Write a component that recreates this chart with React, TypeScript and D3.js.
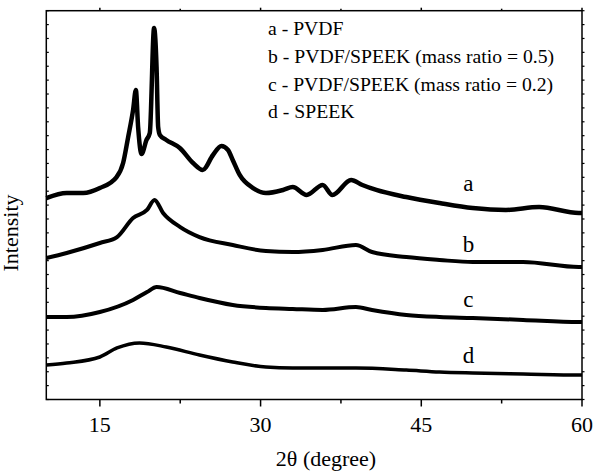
import React from "react";
import * as d3 from "d3";

// 2θ (degree) and intensity (a.u.)
const seriesA: [number, number][] = [
  [10.0, 1451], [11.9, 1487], [13.45, 1487], [15.0, 1523], [16.56, 1602], [17.17, 1703],
  [17.64, 1890], [18.1, 2085], [18.36, 2229], [18.57, 1962], [18.89, 1768], [19.35, 1869],
  [19.66, 1919], [20.06, 2675], [20.29, 2395], [20.44, 1962], [20.6, 1905], [21.2, 1869],
  [22.46, 1811], [23.7, 1703], [24.6, 1653], [25.56, 1761], [26.34, 1826], [26.96, 1797],
  [27.4, 1725], [28.05, 1617], [29.3, 1523], [30.5, 1487], [32.1, 1509], [33.0, 1530],
  [34.3, 1473], [35.8, 1545], [36.7, 1473], [38.45, 1581], [39.5, 1545], [40.8, 1509],
  [43.6, 1458], [46.7, 1415], [49.8, 1379], [52.9, 1365], [56.0, 1386], [59.7, 1343], [60, 1343],
];
const seriesB: [number, number][] = [
  [10.0, 1019], [11.9, 1055], [15.0, 1127], [16.6, 1170], [18.1, 1307], [19.4, 1365],
  [20.1, 1437], [20.9, 1343], [22.5, 1242], [24.3, 1170], [27.4, 1113], [30.5, 1069],
  [33.0, 1062], [35.8, 1077], [38.9, 1113], [40.4, 1062], [43.6, 1026], [46.7, 1005],
  [49.8, 990], [54.5, 990], [59.7, 954], [60, 954],
];
const seriesC: [number, number][] = [
  [10.0, 594], [11.9, 594], [15.0, 630], [18.1, 717], [19.4, 774], [20.3, 810],
  [22.5, 767], [24.3, 731], [27.4, 681], [30.5, 659], [33.0, 652], [35.8, 645],
  [38.9, 666], [40.4, 645], [43.6, 609], [46.7, 594], [49.8, 587], [54.5, 573],
  [59.7, 558], [60, 558],
];
const seriesD: [number, number][] = [
  [10.0, 248], [11.9, 263], [15.0, 306], [16.6, 371], [18.7, 407], [21.2, 378],
  [24.3, 320], [27.4, 270], [30.5, 234], [33.0, 227], [38.9, 227], [43.6, 212],
  [46.7, 198], [49.8, 191], [54.5, 184], [59.7, 176], [60, 176],
];

const curveLabels = ["a", "b", "c", "d"];
const curveLabelX = 49.4; // degree where the letters sit
const curveLabelY = [1502, 1062, 666, 263];
const legendLines = [
  "a - PVDF",
  "b - PVDF/SPEEK (mass ratio = 0.5)",
  "c - PVDF/SPEEK (mass ratio = 0.2)",
  "d - SPEEK",
];
const xMajorTicks = [15, 30, 45, 60];
const xMinorTicks = [22.5, 37.5, 52.5];
const yTicks = d3.range(0, 2801, 100);

const W = 594;
const H = 472;
const m = { left: 46.3, right: 582, top: 10.7, bottom: 399.5 };
const FONT = "Liberation Serif";
const strokeWidths = [4.5, 4, 4, 3.5];

export default function App() {
  const x = d3.scaleLinear().domain([10, 60]).range([m.left, m.right]);
  const y = d3.scaleLinear().domain([0, 2800]).range([m.bottom, m.top]);
  const line = d3
    .line<[number, number]>()
    .x((d) => x(d[0]))
    .y((d) => y(d[1]))
    .curve(d3.curveMonotoneX);
  const all = [seriesA, seriesB, seriesC, seriesD];

  return (
    <svg
      width={W}
      height={H}
      style={{ position: "absolute", left: 0, top: 0, background: "#fff" }}
    >
      <rect x={0} y={0} width={W} height={H} fill="#fff" />
      {all.map((s, i) => (
        <path key={i} d={line(s) || ""} fill="none" stroke="#000" strokeWidth={strokeWidths[i]} strokeLinejoin="round" />
      ))}
      <rect
        x={m.left}
        y={m.top}
        width={m.right - m.left}
        height={m.bottom - m.top}
        fill="none"
        stroke="#000"
        strokeWidth={1.5}
      />
      {xMajorTicks.map((t) => (
        <g key={"M" + t}>
          <line x1={x(t)} x2={x(t)} y1={m.bottom} y2={m.bottom + 7} stroke="#000" strokeWidth={1.5} />
          <line x1={x(t)} x2={x(t)} y1={m.top} y2={m.top - 3} stroke="#000" strokeWidth={1.5} />
          <text x={x(t)} y={432} textAnchor="middle" fontFamily={FONT} fontSize={22}>
            {t}
          </text>
        </g>
      ))}
      {xMinorTicks.map((t) => (
        <g key={"m" + t}>
          <line x1={x(t)} x2={x(t)} y1={m.bottom} y2={m.bottom + 4} stroke="#000" strokeWidth={1.5} />
          <line x1={x(t)} x2={x(t)} y1={m.top} y2={m.top - 2} stroke="#000" strokeWidth={1.5} />
        </g>
      ))}
      {yTicks.map((t) => (
        <g key={"y" + t}>
          <line x1={m.left} x2={m.left + 2.5} y1={y(t)} y2={y(t)} stroke="#000" strokeWidth={1.2} />
          <line x1={m.right} x2={m.right + 2.5} y1={y(t)} y2={y(t)} stroke="#000" strokeWidth={1.2} />
        </g>
      ))}
      {curveLabels.map((l, i) => (
        <text key={l} x={x(curveLabelX)} y={y(curveLabelY[i])} textAnchor="middle" fontFamily={FONT} fontSize={23}>
          {l}
        </text>
      ))}
      {legendLines.map((l, i) => (
        <text key={i} x={268} y={35 + i * 27.8} fontFamily={FONT} fontSize={19.7}>
          {l}
        </text>
      ))}
      <text x={326} y={466} textAnchor="middle" fontFamily={FONT} fontSize={22}>
        2θ (degree)
      </text>
      <text transform={`translate(18, 233) rotate(-90)`} textAnchor="middle" fontFamily={FONT} fontSize={22}>
        Intensity
      </text>
    </svg>
  );
}
